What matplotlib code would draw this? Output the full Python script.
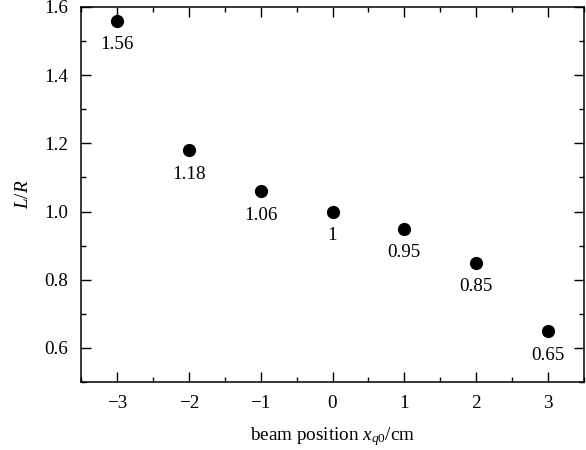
import matplotlib
matplotlib.use("Agg")
import matplotlib.pyplot as plt
from matplotlib.ticker import MultipleLocator, FuncFormatter

x_pos = [-3, -2, -1, 0, 1, 2, 3]
ratio = [1.56, 1.18, 1.06, 1.0, 0.95, 0.85, 0.65]
labels = ["1.56", "1.18", "1.06", "1", "0.95", "0.85", "0.65"]

plt.rcParams['font.family'] = ['Liberation Serif', 'DejaVu Serif']
plt.rcParams['mathtext.fontset'] = 'custom'
plt.rcParams['mathtext.rm'] = 'Liberation Serif'
plt.rcParams['mathtext.it'] = 'Liberation Serif:italic'

FS = 13.8
fig = plt.figure(figsize=(5.86, 4.5), dpi=100)
ax = fig.add_axes([81/586, 1 - 382/450, (584 - 81)/586, (382 - 7)/450])

ax.plot(x_pos, ratio, 'o', color='black', markersize=8.5)
for xv, yv, t in zip(x_pos, ratio, labels):
    ax.annotate(t, (xv, yv), xytext=(0, -17.5), textcoords='offset points',
                ha='center', va='center', fontsize=FS)

ax.set_xlim(-3.5, 3.5)
ax.set_ylim(0.5, 1.6)
ax.xaxis.set_major_locator(MultipleLocator(1))
ax.xaxis.set_minor_locator(MultipleLocator(0.5))
ax.yaxis.set_major_locator(MultipleLocator(0.2))
ax.yaxis.set_minor_locator(MultipleLocator(0.1))
ax.xaxis.set_major_formatter(FuncFormatter(lambda v, p: f"{int(round(v))}".replace('-', '\u2212')))
ax.yaxis.set_major_formatter(FuncFormatter(lambda v, p: f"{v:.1f}"))

ax.tick_params(which='both', direction='in', top=True, right=True, labelsize=FS, width=1)
ax.tick_params(which='major', length=7, pad=9)
ax.tick_params(which='minor', length=3.5)
for s in ax.spines.values():
    s.set_linewidth(1.1)

ax.set_xlabel('beam position $x_{q0}$/cm', fontsize=FS, labelpad=10)
ax.set_ylabel('$L/R$', fontsize=FS, labelpad=9)

fig.savefig('out.png', dpi=100)
